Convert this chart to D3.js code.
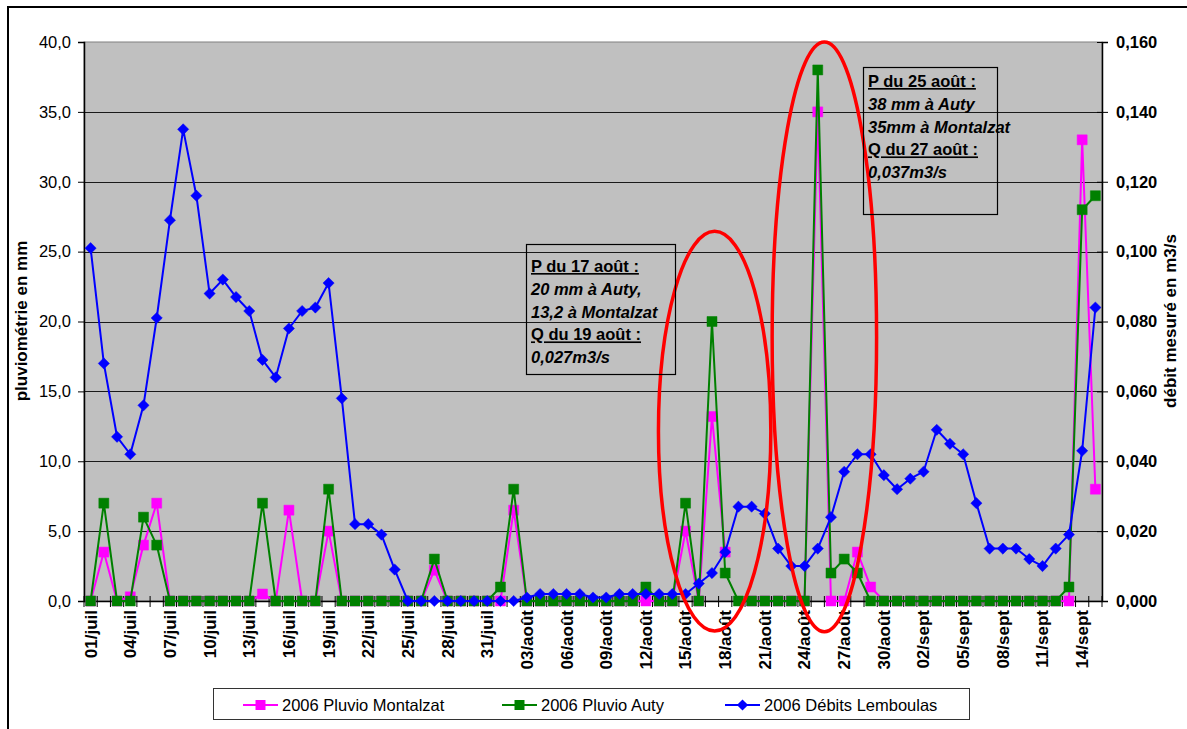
<!DOCTYPE html>
<html><head><meta charset="utf-8">
<script src="https://cdn.jsdelivr.net/npm/d3@7"></script>
<style>
body{margin:0;background:#fff;}
svg{display:block;font-family:Arial,"Liberation Sans",sans-serif;}
</style>
</head><body>
<svg id="c" width="1187" height="729"></svg>
<script>
// ---------- DATA ----------
const months = ["juil", "août", "sept"];
const monthDays = [31, 31, 15];
const categories = [];
months.forEach((m, k) => { for (let d = 1; d <= monthDays[k]; d++) categories.push(String(d).padStart(2, "0") + "/" + m); });
const tickLabels = categories.filter((c, i) => i % 3 === 0);

const pluvioMontalzat = [0,3.5,0,0.3,4,7,0,0,0,0, 0,0,0,0.5,0,6.5,0,0,5,0, 0,0,0,0,0,0,2.2,0,0,0, 0,0,6.5,0,0,0,0,0,0,0, 0,0,0,0,0,5,0,13.2,3.5,null, 0,0,0,0,0,35,0,0,3.5,1, 0,0,0,0,0,0,0,0,0,0, 0,0,0,0,0,33,8];
const pluvioAuty = [0,7,0,0,6,4,0,0,0,0, 0,0,0,7,0,0,0,0,8,0, 0,0,0,0,0,0,3,0,0,0, 0,1,8,0,0,0,0,0,0,0, 0,0,1,0,0,7,0,20,2,0, 0,0,0,0,0,38,2,3,2,0, 0,0,0,0,0,0,0,0,0,0, 0,0,0,0,1,28,29];
const debitsLemboulas = [0.101,0.068,0.047,0.042,0.056,0.081,0.109,0.135,0.116,0.088, 0.092,0.087,0.083,0.069,0.064,0.078,0.083,0.084,0.091,0.058, 0.022,0.022,0.019,0.009,0,0,0,0,0,0, 0,0,0,0.001,0.002,0.002,0.002,0.002,0.001,0.001, 0.002,0.002,0.002,0.002,0.002,0.002,0.005,0.008,0.014,0.027, 0.027,0.025,0.015,0.010,0.010,0.015,0.024,0.037,0.042,0.042, 0.036,0.032,0.035,0.037,0.049,0.045,0.042,0.028,0.015,0.015, 0.015,0.012,0.010,0.015,0.019,0.043,0.084];

const leftTicks = [0,5,10,15,20,25,30,35,40];
const rightTicks = [0,0.02,0.04,0.06,0.08,0.10,0.12,0.14,0.16];
const seriesNames = ["2006 Pluvio Montalzat", "2006 Pluvio Auty", "2006 Débits Lemboulas"];
const note1 = [["P du 17 août :", true], ["20 mm à Auty,", false], ["13,2 à Montalzat", false], ["Q du 19 août :", true], ["0,027m3/s", false]];
const note2 = [["P du 25 août :", true], ["38 mm à Auty", false], ["35mm à Montalzat", false], ["Q du 27 août :", true], ["0,037m3/s", false]];

// ---------- LAYOUT ----------
const svg = d3.select("#c");
const L = 84, R = 1102, T = 42, B = 601;
const x = d3.scaleBand().domain(categories).range([L, R]).padding(0);
const bw = x.bandwidth();
const xc = i => x(categories[i]) + bw / 2;
const xi = d3.scaleLinear().domain([0, 1]).range([xc(0), xc(1)]); // fractional day index
const yL = d3.scaleLinear().domain([0, 40]).range([B, T]);
const yR = d3.scaleLinear().domain([0, 0.16]).range([B, T]);
const comma = f => v => d3.format(f)(v).replace(".", ",");

// outer frame
svg.append("rect").attr("x", 8).attr("y", 7).attr("width", 1300).attr("height", 800)
  .attr("fill", "none").attr("stroke", "#000").attr("stroke-width", 2);

// plot background
svg.append("rect").attr("x", L).attr("y", T).attr("width", R - L).attr("height", B - T)
  .attr("fill", "#C0C0C0").attr("stroke", "#808080").attr("stroke-width", 1);

// gridlines
svg.append("g").selectAll("line").data(leftTicks.filter(v => v > 0 && v < 40)).join("line")
  .attr("x1", L).attr("x2", R).attr("y1", d => Math.round(yL(d)) + 0.5).attr("y2", d => Math.round(yL(d)) + 0.5)
  .attr("stroke", "#1a1a1a").attr("stroke-width", 1);

// left axis
const gL = svg.append("g").attr("transform", `translate(${L},0)`)
  .call(d3.axisLeft(yL).tickValues(leftTicks).tickSize(6).tickPadding(7).tickFormat(comma(".1f")));
gL.select(".domain").attr("stroke", "#000").attr("stroke-width", 1.5);
gL.selectAll("text").attr("font-size", "16.5px").attr("font-family", "Arial, 'Liberation Sans', sans-serif").attr("fill", "#000");

// right axis
const gR = svg.append("g").attr("transform", `translate(${R},0)`)
  .call(d3.axisRight(yR).tickValues(rightTicks).tickSize(6).tickPadding(8).tickFormat(comma(".3f")));
gR.select(".domain").attr("stroke", "#000").attr("stroke-width", 1.5);
gR.selectAll(".tick line").attr("x1", -5).attr("x2", 6);
gR.selectAll("text").attr("font-size", "16.5px").attr("font-weight", "bold").attr("font-family", "Arial, 'Liberation Sans', sans-serif").attr("fill", "#000");

// bottom axis
const gB = svg.append("g").attr("transform", `translate(0,${B})`)
  .call(d3.axisBottom(x).tickValues(tickLabels).tickSize(0));
gB.select(".domain").attr("stroke", "#000").attr("stroke-width", 1.5);
gB.selectAll(".tick text").attr("transform", "rotate(-90)").attr("text-anchor", "end")
  .attr("x", -9).attr("y", 0).attr("dy", "0.35em")
  .attr("font-size", "17px").attr("font-weight", "bold").attr("font-family", "Arial, 'Liberation Sans', sans-serif").attr("fill", "#000");
svg.append("g").selectAll("line").data(d3.range(categories.length + 1)).join("line")
  .attr("x1", i => L + i * bw).attr("x2", i => L + i * bw).attr("y1", B - 5).attr("y2", B + 6)
  .attr("stroke", "#000").attr("stroke-width", 1);

// axis titles
svg.append("text").attr("transform", "translate(27,321) rotate(-90)").attr("text-anchor", "middle")
  .attr("font-size", "17px").attr("font-weight", "bold").text("pluviométrie en mm");
svg.append("text").attr("transform", "translate(1176,321) rotate(-90)").attr("text-anchor", "middle")
  .attr("font-size", "17px").attr("font-weight", "bold").text("débit mesuré en m3/s");

// ---------- SERIES ----------
const series = [
  { name: seriesNames[0], data: pluvioMontalzat, y: yL, color: "#FF00FF", marker: "square" },
  { name: seriesNames[1], data: pluvioAuty, y: yL, color: "#008000", marker: "square" },
  { name: seriesNames[2], data: debitsLemboulas, y: yR, color: "#0000FF", marker: "diamond" }
];
const sq = d3.symbol().type(d3.symbolSquare).size(100);
const dm = d3.symbol().type(d3.symbolDiamond2).size(80);
series.forEach(s => {
  const line = d3.line().defined(d => d != null).x((d, i) => xc(i)).y(d => s.y(d));
  svg.append("path").datum(s.data).attr("d", line).attr("fill", "none")
    .attr("stroke", s.color).attr("stroke-width", 2).attr("stroke-linejoin", "round");
  svg.append("g").selectAll("path").data(s.data.map((v, i) => ({ v, i })).filter(d => d.v != null)).join("path")
    .attr("transform", d => `translate(${xc(d.i)},${s.y(d.v)})`)
    .attr("d", s.marker === "square" ? sq : dm)
    .attr("fill", s.color).attr("stroke", s.color).attr("stroke-width", 0.5);
});

// ---------- ANNOTATIONS ----------
const ellipses = [
  { day: 47.2, mm: 12.15, rxDays: 4.25, ryMm: 14.3 },
  { day: 55.5, mm: 18.9, rxDays: 3.95, ryMm: 21.1 }
];
svg.append("g").selectAll("ellipse").data(ellipses).join("ellipse")
  .attr("cx", d => xi(d.day)).attr("cy", d => yL(d.mm))
  .attr("rx", d => xi(d.rxDays) - xi(0)).attr("ry", d => yL(0) - yL(d.ryMm))
  .attr("fill", "none").attr("stroke", "#FF0000").attr("stroke-width", 3.5);

function note(lines, bx, by, bwid, bh, tx, ty0) {
  svg.append("rect").attr("x", bx + 0.5).attr("y", by + 0.5).attr("width", bwid).attr("height", bh)
    .attr("fill", "none").attr("stroke", "#000").attr("stroke-width", 1.2);
  lines.forEach((l, k) => {
    svg.append("text").attr("x", tx).attr("y", ty0 + k * 22.8)
      .attr("font-size", "16.5px").attr("font-weight", "bold")
      .attr("font-style", l[1] ? "normal" : "italic")
      .attr("text-decoration", l[1] ? "underline" : "none")
      .attr("fill", "#000").text(l[0]);
  });
}
note(note1, 526, 244, 149, 130, 531, 272);
note(note2, 863, 67, 134, 147, 868, 87);

// ---------- LEGEND ----------
svg.append("rect").attr("x", 213.5).attr("y", 688.5).attr("width", 756).attr("height", 31)
  .attr("fill", "#fff").attr("stroke", "#333").attr("stroke-width", 1);
const legX = [243, 502, 725];
series.forEach((s, k) => {
  const g = svg.append("g");
  g.append("line").attr("x1", legX[k]).attr("x2", legX[k] + 35).attr("y1", 705).attr("y2", 705)
    .attr("stroke", s.color).attr("stroke-width", 2);
  g.append("path").attr("transform", `translate(${legX[k] + 17.5},705)`)
    .attr("d", s.marker === "square" ? sq : dm).attr("fill", s.color);
  g.append("text").attr("x", legX[k] + 39).attr("y", 711).attr("font-size", "16.5px").attr("fill", "#000").text(s.name);
});
</script>
</body></html>
